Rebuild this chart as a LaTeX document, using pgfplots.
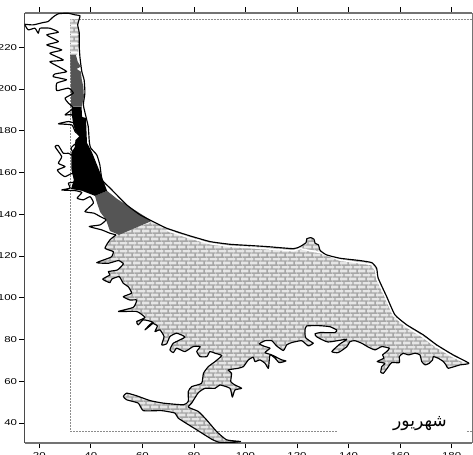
\documentclass[border=0pt]{standalone}
\usepackage{fontspec}
\usepackage{pgfplots}
\pgfplotsset{compat=1.18}
\usepackage{pgfplotstable}
\usetikzlibrary{patterns}
\setmainfont{Liberation Sans}
\newfontfamily\tickfont[FakeStretch=1.35]{Liberation Sans}
\newfontfamily\arabicfont[Script=Arabic]{DejaVu Sans}
\TeXXeTstate=1
\definecolor{darkreg}{HTML}{555555}
\definecolor{brickbg}{HTML}{E6E6E6}
\definecolor{brickln}{HTML}{A6A6A6}
\pgfdeclarepatterninherentlycolored{mybricks}{\pgfpointorigin}{\pgfqpoint{9bp}{8.4bp}}{\pgfqpoint{9bp}{8.4bp}}{%
  \pgfsetfillcolor{brickbg}\pgfpathrectangle{\pgfpointorigin}{\pgfqpoint{9bp}{8.4bp}}\pgfusepath{fill}%
  \pgfsetstrokecolor{brickln}\pgfsetlinewidth{1.5bp}%
  \pgfpathmoveto{\pgfqpoint{0bp}{2.1bp}}\pgfpathlineto{\pgfqpoint{9bp}{2.1bp}}%
  \pgfpathmoveto{\pgfqpoint{0bp}{6.3bp}}\pgfpathlineto{\pgfqpoint{9bp}{6.3bp}}%
  \pgfpathmoveto{\pgfqpoint{2.25bp}{2.1bp}}\pgfpathlineto{\pgfqpoint{2.25bp}{6.3bp}}%
  \pgfpathmoveto{\pgfqpoint{6.75bp}{6.3bp}}\pgfpathlineto{\pgfqpoint{6.75bp}{8.4bp}}%
  \pgfpathmoveto{\pgfqpoint{6.75bp}{0bp}}\pgfpathlineto{\pgfqpoint{6.75bp}{2.1bp}}%
  \pgfusepath{stroke}}
\pgfplotstableread{
x y
14.3 231.0
17.6 230.7
21.4 231.8
23.4 232.3
25.3 234.4
27.3 236.0
31.1 236.3
33.9 235.5
35.8 235.1
35.4 233.1
34.9 230.7
35.5 226.9
35.5 220.3
35.8 214.9
36.5 208.3
37.4 204.3
37.7 198.1
37.1 192.4
38.1 186.8
39.0 181.9
39.4 174.8
39.9 171.8
42.3 168.4
43.5 163.6
44.4 156.4
47.4 152.6
53.9 144.5
59.1 139.7
64.1 136.5
}\coastnorth
\pgfplotstableread{
x y
64.1 136.5
69.4 133.3
77.2 130.1
86.2 126.9
94.0 125.6
101.8 125.0
108.2 124.5
118.6 123.5
121.2 124.5
123.5 126.4
123.8 128.2
125.3 128.8
126.6 128.0
127.0 126.1
128.3 125.3
129.0 122.6
131.5 120.5
136.7 118.9
144.4 117.8
149.0 116.8
150.9 114.1
151.5 109.4
154.8 100.5
158.0 91.8
162.6 87.0
169.0 82.2
174.2 77.4
180.6 72.6
186.7 68.6
183.2 67.8
178.7 66.2
177.8 67.8
176.8 69.4
174.8 71.0
172.9 71.8
172.6 70.2
171.3 68.6
169.7 67.8
168.4 69.4
167.7 72.6
165.8 73.4
163.2 72.6
161.2 73.4
159.7 71.8
159.7 68.9
156.7 68.9
155.0 66.2
153.5 63.8
152.5 64.3
152.9 67.0
154.1 68.6
151.1 69.4
153.7 71.0
153.2 72.6
154.8 74.2
155.8 75.8
152.9 76.6
150.3 75.0
147.7 76.3
145.1 78.2
142.5 79.4
140.6 79.0
139.3 76.5
136.0 73.7
133.5 74.2
136.7 77.9
139.3 80.1
132.0 78.8
127.6 81.3
127.0 82.7
129.0 83.3
134.7 83.3
135.4 84.5
132.8 86.1
128.9 86.6
123.8 86.5
123.1 84.6
123.1 82.2
123.5 80.6
125.7 78.7
126.3 78.2
124.4 76.9
121.8 79.4
117.9 78.5
116.0 77.4
114.7 74.7
112.1 76.9
110.2 79.4
107.6 79.4
105.4 77.9
107.6 76.6
109.5 75.8
107.6 73.7
110.2 72.6
114.1 70.2
115.7 69.7
113.1 68.9
111.5 71.0
109.5 72.6
108.9 66.2
107.6 68.6
105.6 70.2
103.7 69.4
103.0 71.5
101.1 70.2
99.2 67.0
97.2 66.2
93.3 65.4
94.6 63.8
94.3 59.8
95.9 58.2
98.5 56.6
95.9 55.8
94.9 52.4
94.0 56.6
90.1 58.2
88.2 56.6
84.3 56.6
81.7 54.5
79.1 49.5
77.8 47.6
81.7 45.5
84.9 41.5
88.8 35.9
92.7 31.9
98.1 31.1
94.0 30.6
90.1 30.6
86.9 32.2
81.1 36.7
73.9 42.3
72.7 44.7
67.5 45.9
60.4 45.9
58.4 49.5
53.9 51.1
52.6 52.7
53.9 54.3
57.8 53.0
63.0 50.7
68.1 49.5
75.9 48.7
77.8 50.3
77.8 55.0
79.1 57.4
83.0 59.0
83.7 63.8
85.6 67.0
88.2 69.4
90.8 72.3
88.2 73.4
86.2 74.2
85.0 71.8
82.4 71.8
81.1 74.2
82.4 76.6
79.7 76.6
76.5 74.2
73.3 75.8
72.0 73.7
70.7 75.0
72.0 78.2
76.5 81.1
73.3 83.0
70.7 81.4
69.4 77.9
67.5 77.4
68.4 81.4
66.8 84.6
64.9 83.8
65.8 86.5
63.6 87.8
61.0 84.6
64.2 88.1
60.4 89.4
58.4 87.0
57.8 88.6
61.0 90.5
57.8 93.4
50.7 93.4
56.5 95.4
57.8 98.9
55.2 98.9
52.6 100.5
55.8 102.2
54.5 105.3
52.6 106.9
51.0 110.1
48.1 108.9
47.4 107.2
44.6 108.9
47.4 110.9
46.8 112.5
50.3 113.3
52.6 116.2
50.7 117.8
46.8 116.5
42.3 116.8
46.8 118.9
48.1 119.7
48.7 122.1
45.5 123.7
47.4 127.7
49.8 130.1
}\coastmain
\pgfplotstableread{
x y
49.8 130.1
47.4 130.9
44.2 132.5
39.4 134.1
43.6 134.9
45.9 137.3
43.6 138.9
41.2 140.5
37.7 141.3
41.0 145.3
39.7 148.4
37.1 146.9
34.7 147.7
36.5 150.4
33.9 151.3
28.7 151.6
31.9 152.5
31.3 154.9
33.9 155.6
33.0 159.6
30.0 158.0
28.0 159.6
27.0 161.2
30.0 162.8
27.4 164.4
28.7 167.6
26.1 172.4
27.4 172.9
29.3 169.2
31.3 169.2
33.9 167.6
32.3 171.6
34.2 174.0
35.8 177.2
33.9 179.6
32.6 182.8
27.4 183.3
31.3 184.4
34.5 183.6
32.6 187.6
30.0 187.6
33.2 190.8
31.3 193.2
30.0 195.6
33.2 198.0
31.3 200.4
26.8 199.2
26.8 202.8
30.6 204.4
25.4 205.9
26.1 207.2
30.6 208.3
27.4 210.7
24.1 213.1
29.3 213.9
24.1 217.1
28.7 218.7
22.9 221.1
27.4 222.7
22.9 225.9
27.4 227.2
24.1 229.1
20.3 229.1
19.6 226.7
18.3 229.1
15.7 228.3
14.4 230.7
}\coastwest
\begin{document}
\begin{tikzpicture}[x=1bp,y=1bp]
\path[use as bounding box,clip] (0,0) rectangle (473,455);
\begin{axis}[
  at={(24.5bp,12bp)},anchor=south west,
  scale only axis,width=447.5bp,height=430bp,
  xmin=14.26,xmax=187.9,ymin=30.4,ymax=236.4,
  separate axis lines,
  every outer x axis line/.append style={draw=black!55,line width=1.5bp},
  every outer y axis line/.append style={draw=black!55,line width=0.9bp},
  xtick={20,40,...,180},ytick={40,60,...,220},
  tick align=outside,xtick pos=both,xticklabel pos=lower,ytick pos=left,
  major tick length=5.5bp,
  tick style={black,line width=0.8bp},
  /pgf/number format/assume math mode=true,
  tick label style={font=\tickfont\fontsize{8.5}{9}\selectfont},
  xticklabel style={yshift=-0.5bp},
  yticklabel style={xshift=1.5bp},
]
% left frame edge in black
\addplot[black,line width=1.6bp] coordinates {(14.26,30.4) (14.26,236.4)};
% dotted domain box
\addplot[black!45,line width=0.5bp,densely dotted] coordinates {(135.4,36.15) (32.0,36.15) (32.0,233.3) (187.9,233.3)};
\addplot[black!45,line width=0.5bp,densely dotted] coordinates {(185.9,36.15) (187.9,36.15)};
% regions
\addplot[draw=none,pattern=mybricks,smooth,tension=0.3] table {\coastmain};
\addplot[draw=none,pattern=mybricks] coordinates {(32.0,233.3) (35.4,233.3) (34.9,230.7) (35.4,226.9) (35.4,220.1) (34.6,216.3) (32.0,216.3)} --cycle;
\addplot[draw=none,fill=darkreg] coordinates {(32.0,216.3) (34.2,216.3) (34.9,213.1) (36.1,210.7) (34.5,209.6) (36.1,208.3) (36.5,204.3) (37.1,201.1) (37.3,196.3) (36.5,191.5) (32.4,191.5)} --cycle;
\addplot[draw=none,fill=darkreg] coordinates {(41.6,148.8) (46.3,151.2) (50.2,147.3) (63.7,136.8) (50.9,130.1) (47.4,132.0) (45.9,137.3) (43.6,141.1) (42.4,145.4)} --cycle;
\addplot[draw=none,fill=black] coordinates {(32.5,191.4) (36.4,191.4) (36.6,186.6) (38.1,186.1) (38.5,174.2) (40.4,169.8) (43.5,160.3) (46.3,151.2) (41.6,148.8) (36.6,151.2) (32.3,152.1) (33.4,156.4) (32.5,161.2) (32.4,169.4) (33.8,172.2) (34.0,175.5) (35.8,177.6) (34.0,179.8) (33.2,182.8) (32.8,186.1) (32.5,189.0)} --cycle;
% pale rim inside the shore
\addplot[white,line width=1.5bp] coordinates {(69.4,132.3) (77.2,129.1) (86.2,125.9) (94.0,124.6) (101.8,124.0) (118.6,122.5) (121.2,123.5) (129,121.6) (136.7,118.0) (149.0,115.9) (150.5,113) (151,109) (154.2,100.5) (157.4,91.5) (162.2,86.3) (168.6,81.4) (173.8,76.7) (180.2,71.9) (185,69.1)};
% coastline
\addplot[black,line width=1.15bp,line join=round,smooth,tension=0.3] table {\coastnorth};
\addplot[black,line width=1.15bp,line join=round,smooth,tension=0.3] table {\coastmain};
\addplot[black,line width=1.15bp,line join=round,smooth,tension=0.3] table {\coastwest};
\node[font=\arabicfont\fontsize{17.2}{17}\selectfont,inner sep=0pt] at (axis cs:167.7,39.7) {\beginR شهریور\endR};
\end{axis}
\end{tikzpicture}
\end{document}
